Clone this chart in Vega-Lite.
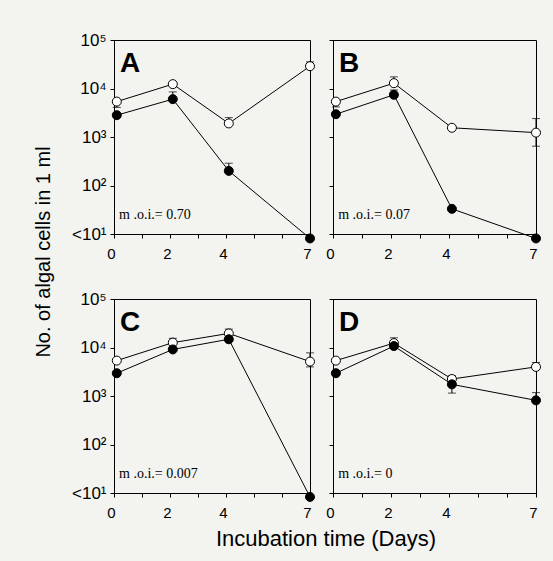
{
  "$schema": "https://vega.github.io/schema/vega-lite/v6.json",
  "background": "#f3f3f0",
  "padding": {"left": 34, "top": 30, "right": 14, "bottom": 14},
  "datasets": {
    "pts": [
      {"panel": "A", "series": "open", "day": 0.1, "count": 5370},
      {"panel": "A", "series": "open", "day": 2.1, "count": 12303},
      {"panel": "A", "series": "open", "day": 4.1, "count": 1905},
      {"panel": "A", "series": "open", "day": 7, "count": 28840},
      {"panel": "A", "series": "filled", "day": 0.1, "count": 2818},
      {"panel": "A", "series": "filled", "day": 2.1, "count": 6026},
      {"panel": "A", "series": "filled", "day": 4.1, "count": 200},
      {"panel": "A", "series": "filled", "day": 7, "count": 8.1},
      {"panel": "B", "series": "open", "day": 0.1, "count": 5370},
      {"panel": "B", "series": "open", "day": 2.1, "count": 12882},
      {"panel": "B", "series": "open", "day": 4.1, "count": 1549},
      {"panel": "B", "series": "open", "day": 7, "count": 1230},
      {"panel": "B", "series": "filled", "day": 0.1, "count": 2951},
      {"panel": "B", "series": "filled", "day": 2.1, "count": 7413},
      {"panel": "B", "series": "filled", "day": 4.1, "count": 33},
      {"panel": "B", "series": "filled", "day": 7, "count": 8.1},
      {"panel": "C", "series": "open", "day": 0.1, "count": 5370},
      {"panel": "C", "series": "open", "day": 2.1, "count": 12589},
      {"panel": "C", "series": "open", "day": 4.1, "count": 19498},
      {"panel": "C", "series": "open", "day": 7, "count": 5129},
      {"panel": "C", "series": "filled", "day": 0.1, "count": 2951},
      {"panel": "C", "series": "filled", "day": 2.1, "count": 9120},
      {"panel": "C", "series": "filled", "day": 4.1, "count": 14791},
      {"panel": "C", "series": "filled", "day": 7, "count": 8.3},
      {"panel": "D", "series": "open", "day": 0.1, "count": 5370},
      {"panel": "D", "series": "open", "day": 2.1, "count": 12303},
      {"panel": "D", "series": "open", "day": 4.1, "count": 2239},
      {"panel": "D", "series": "open", "day": 7, "count": 3981},
      {"panel": "D", "series": "filled", "day": 0.1, "count": 2951},
      {"panel": "D", "series": "filled", "day": 2.1, "count": 10715},
      {"panel": "D", "series": "filled", "day": 4.1, "count": 1738},
      {"panel": "D", "series": "filled", "day": 7, "count": 813}
    ],
    "err": [
      {"panel": "A", "day": 0.1, "lo": 4074, "hi": 5370},
      {"panel": "A", "day": 2.1, "lo": 6026, "hi": 8511},
      {"panel": "A", "day": 4.1, "lo": 1905, "hi": 2512},
      {"panel": "A", "day": 4.1, "lo": 200, "hi": 288},
      {"panel": "A", "day": 7, "lo": 28840, "hi": 35481},
      {"panel": "B", "day": 0.1, "lo": 4169, "hi": 5370},
      {"panel": "B", "day": 2.1, "lo": 12882, "hi": 17378},
      {"panel": "B", "day": 2.1, "lo": 7413, "hi": 9333},
      {"panel": "B", "day": 7, "lo": 646, "hi": 2399},
      {"panel": "C", "day": 2.1, "lo": 12589, "hi": 15488},
      {"panel": "C", "day": 4.1, "lo": 19498, "hi": 23988},
      {"panel": "C", "day": 7, "lo": 3981, "hi": 7762},
      {"panel": "D", "day": 2.1, "lo": 12303, "hi": 15849},
      {"panel": "D", "day": 4.1, "lo": 2239, "hi": 2630},
      {"panel": "D", "day": 4.1, "lo": 1148, "hi": 1738},
      {"panel": "D", "day": 7, "lo": 813, "hi": 1175},
      {"panel": "D", "day": 7, "lo": 3981, "hi": 4898}
    ],
    "lab": [
      {"panel": "A", "letter": "A", "moi": "m .o.i.= 0.70"},
      {"panel": "B", "letter": "B", "moi": "m .o.i.= 0.07"},
      {"panel": "C", "letter": "C", "moi": "m .o.i.= 0.007"},
      {"panel": "D", "letter": "D", "moi": "m .o.i.= 0"}
    ]
  },
  "title": {"text": "No. of algal cells in 1 ml", "orient": "left", "anchor": "middle", "fontSize": 20, "font": "Liberation Sans", "fontWeight": "normal", "color": "black", "offset": 17, "dx": 38},
  "vconcat": [
    {
      "title": {"text": "Incubation time (Days)", "orient": "bottom", "anchor": "middle", "fontSize": 22, "font": "Liberation Sans", "fontWeight": "normal", "color": "black", "offset": 8, "dx": 19},
      "spacing": 27,
      "vconcat": [
        {
          "spacing": 8,
          "hconcat": [
            {
              "width": 196, "height": 194,
              "layer": [
                {"data": {"name": "err"}, "transform": [{"filter": "datum.panel=='A'"}],
                 "mark": {"type": "errorbar", "color": "black", "ticks": {"size": 8}},
                 "encoding": {
                   "x": {"field": "day", "type": "quantitative", "scale": {"domain": [0, 7], "nice": false, "zero": false}, "axis": {"title": null, "values": [0, 1, 2, 3, 4, 5, 6, 7], "format": "d", "tickCount": 20, "labelOverlap": false, "labelExpr": "datum.value == 1 || datum.value == 3 || datum.value == 5 || datum.value == 6 ? '' : datum.label"}},
                   "y": {"field": "lo", "type": "quantitative", "scale": {"type": "log", "domain": [10, 100000], "nice": false}, "axis": {"title": null, "values": [10, 100, 1000, 10000, 100000], "tickCount": 10, "labelOverlap": false, "labelExpr": "datum.value == 10 ? '<10¹' : datum.value == 100 ? '10²' : datum.value == 1000 ? '10³' : datum.value == 10000 ? '10⁴' : '10⁵'"}},
                   "y2": {"field": "hi"}
                 }},
                {"data": {"name": "pts"}, "transform": [{"filter": "datum.panel=='A'"}],
                 "mark": {"type": "line", "color": "black", "strokeWidth": 1},
                 "encoding": {"x": {"field": "day", "type": "quantitative"}, "y": {"field": "count", "type": "quantitative"}, "detail": {"field": "series"}}},
                {"data": {"name": "pts"}, "transform": [{"filter": "datum.panel=='A'"}],
                 "mark": {"type": "point", "shape": "circle", "size": 81, "filled": true, "stroke": "black", "strokeWidth": 1, "opacity": 1},
                 "encoding": {"x": {"field": "day", "type": "quantitative"}, "y": {"field": "count", "type": "quantitative"}, "fill": {"field": "series", "type": "nominal", "scale": {"domain": ["open", "filled"], "range": ["white", "black"]}, "legend": null}}},
                {"data": {"name": "lab"}, "transform": [{"filter": "datum.panel=='A'"}],
                 "mark": {"type": "text", "font": "Liberation Sans", "fontWeight": "bold", "fontSize": 28, "align": "left", "baseline": "alphabetic", "color": "black"},
                 "encoding": {"x": {"datum": 0.21, "type": "quantitative"}, "y": {"datum": 21900, "type": "quantitative"}, "text": {"field": "letter"}}},
                {"data": {"name": "lab"}, "transform": [{"filter": "datum.panel=='A'"}],
                 "mark": {"type": "text", "font": "Liberation Serif", "fontSize": 14, "align": "left", "baseline": "alphabetic", "color": "black"},
                 "encoding": {"x": {"datum": 0.18, "type": "quantitative"}, "y": {"datum": 20.4, "type": "quantitative"}, "text": {"field": "moi"}}}
              ]
            },
            {
              "width": 203, "height": 194,
              "layer": [
                {"data": {"name": "err"}, "transform": [{"filter": "datum.panel=='B'"}],
                 "mark": {"type": "errorbar", "color": "black", "ticks": {"size": 8}},
                 "encoding": {
                   "x": {"field": "day", "type": "quantitative", "scale": {"domain": [0, 7], "nice": false, "zero": false}, "axis": {"title": null, "values": [0, 1, 2, 3, 4, 5, 6, 7], "format": "d", "tickCount": 20, "labelOverlap": false, "labelExpr": "datum.value == 1 || datum.value == 3 || datum.value == 5 || datum.value == 6 ? '' : datum.label"}},
                   "y": {"field": "lo", "type": "quantitative", "scale": {"type": "log", "domain": [10, 100000], "nice": false}, "axis": {"title": null, "values": [10, 100, 1000, 10000, 100000], "tickCount": 10, "labels": false}},
                   "y2": {"field": "hi"}
                 }},
                {"data": {"name": "pts"}, "transform": [{"filter": "datum.panel=='B'"}],
                 "mark": {"type": "line", "color": "black", "strokeWidth": 1},
                 "encoding": {"x": {"field": "day", "type": "quantitative"}, "y": {"field": "count", "type": "quantitative"}, "detail": {"field": "series"}}},
                {"data": {"name": "pts"}, "transform": [{"filter": "datum.panel=='B'"}],
                 "mark": {"type": "point", "shape": "circle", "size": 81, "filled": true, "stroke": "black", "strokeWidth": 1, "opacity": 1},
                 "encoding": {"x": {"field": "day", "type": "quantitative"}, "y": {"field": "count", "type": "quantitative"}, "fill": {"field": "series", "type": "nominal", "scale": {"domain": ["open", "filled"], "range": ["white", "black"]}, "legend": null}}},
                {"data": {"name": "lab"}, "transform": [{"filter": "datum.panel=='B'"}],
                 "mark": {"type": "text", "font": "Liberation Sans", "fontWeight": "bold", "fontSize": 28, "align": "left", "baseline": "alphabetic", "color": "black"},
                 "encoding": {"x": {"datum": 0.21, "type": "quantitative"}, "y": {"datum": 21900, "type": "quantitative"}, "text": {"field": "letter"}}},
                {"data": {"name": "lab"}, "transform": [{"filter": "datum.panel=='B'"}],
                 "mark": {"type": "text", "font": "Liberation Serif", "fontSize": 14, "align": "left", "baseline": "alphabetic", "color": "black"},
                 "encoding": {"x": {"datum": 0.18, "type": "quantitative"}, "y": {"datum": 20.4, "type": "quantitative"}, "text": {"field": "moi"}}}
              ]
            }
          ]
        },
        {
          "spacing": 8,
          "hconcat": [
            {
              "width": 196, "height": 194,
              "layer": [
                {"data": {"name": "err"}, "transform": [{"filter": "datum.panel=='C'"}],
                 "mark": {"type": "errorbar", "color": "black", "ticks": {"size": 8}},
                 "encoding": {
                   "x": {"field": "day", "type": "quantitative", "scale": {"domain": [0, 7], "nice": false, "zero": false}, "axis": {"title": null, "values": [0, 1, 2, 3, 4, 5, 6, 7], "format": "d", "tickCount": 20, "labelOverlap": false, "labelExpr": "datum.value == 1 || datum.value == 3 || datum.value == 5 || datum.value == 6 ? '' : datum.label"}},
                   "y": {"field": "lo", "type": "quantitative", "scale": {"type": "log", "domain": [10, 100000], "nice": false}, "axis": {"title": null, "values": [10, 100, 1000, 10000, 100000], "tickCount": 10, "labelOverlap": false, "labelExpr": "datum.value == 10 ? '<10¹' : datum.value == 100 ? '10²' : datum.value == 1000 ? '10³' : datum.value == 10000 ? '10⁴' : '10⁵'"}},
                   "y2": {"field": "hi"}
                 }},
                {"data": {"name": "pts"}, "transform": [{"filter": "datum.panel=='C'"}],
                 "mark": {"type": "line", "color": "black", "strokeWidth": 1},
                 "encoding": {"x": {"field": "day", "type": "quantitative"}, "y": {"field": "count", "type": "quantitative"}, "detail": {"field": "series"}}},
                {"data": {"name": "pts"}, "transform": [{"filter": "datum.panel=='C'"}],
                 "mark": {"type": "point", "shape": "circle", "size": 81, "filled": true, "stroke": "black", "strokeWidth": 1, "opacity": 1},
                 "encoding": {"x": {"field": "day", "type": "quantitative"}, "y": {"field": "count", "type": "quantitative"}, "fill": {"field": "series", "type": "nominal", "scale": {"domain": ["open", "filled"], "range": ["white", "black"]}, "legend": null}}},
                {"data": {"name": "lab"}, "transform": [{"filter": "datum.panel=='C'"}],
                 "mark": {"type": "text", "font": "Liberation Sans", "fontWeight": "bold", "fontSize": 28, "align": "left", "baseline": "alphabetic", "color": "black"},
                 "encoding": {"x": {"datum": 0.21, "type": "quantitative"}, "y": {"datum": 21900, "type": "quantitative"}, "text": {"field": "letter"}}},
                {"data": {"name": "lab"}, "transform": [{"filter": "datum.panel=='C'"}],
                 "mark": {"type": "text", "font": "Liberation Serif", "fontSize": 14, "align": "left", "baseline": "alphabetic", "color": "black"},
                 "encoding": {"x": {"datum": 0.18, "type": "quantitative"}, "y": {"datum": 20.4, "type": "quantitative"}, "text": {"field": "moi"}}}
              ]
            },
            {
              "width": 203, "height": 194,
              "layer": [
                {"data": {"name": "err"}, "transform": [{"filter": "datum.panel=='D'"}],
                 "mark": {"type": "errorbar", "color": "black", "ticks": {"size": 8}},
                 "encoding": {
                   "x": {"field": "day", "type": "quantitative", "scale": {"domain": [0, 7], "nice": false, "zero": false}, "axis": {"title": null, "values": [0, 1, 2, 3, 4, 5, 6, 7], "format": "d", "tickCount": 20, "labelOverlap": false, "labelExpr": "datum.value == 1 || datum.value == 3 || datum.value == 5 || datum.value == 6 ? '' : datum.label"}},
                   "y": {"field": "lo", "type": "quantitative", "scale": {"type": "log", "domain": [10, 100000], "nice": false}, "axis": {"title": null, "values": [10, 100, 1000, 10000, 100000], "tickCount": 10, "labels": false}},
                   "y2": {"field": "hi"}
                 }},
                {"data": {"name": "pts"}, "transform": [{"filter": "datum.panel=='D'"}],
                 "mark": {"type": "line", "color": "black", "strokeWidth": 1},
                 "encoding": {"x": {"field": "day", "type": "quantitative"}, "y": {"field": "count", "type": "quantitative"}, "detail": {"field": "series"}}},
                {"data": {"name": "pts"}, "transform": [{"filter": "datum.panel=='D'"}],
                 "mark": {"type": "point", "shape": "circle", "size": 81, "filled": true, "stroke": "black", "strokeWidth": 1, "opacity": 1},
                 "encoding": {"x": {"field": "day", "type": "quantitative"}, "y": {"field": "count", "type": "quantitative"}, "fill": {"field": "series", "type": "nominal", "scale": {"domain": ["open", "filled"], "range": ["white", "black"]}, "legend": null}}},
                {"data": {"name": "lab"}, "transform": [{"filter": "datum.panel=='D'"}],
                 "mark": {"type": "text", "font": "Liberation Sans", "fontWeight": "bold", "fontSize": 28, "align": "left", "baseline": "alphabetic", "color": "black"},
                 "encoding": {"x": {"datum": 0.21, "type": "quantitative"}, "y": {"datum": 21900, "type": "quantitative"}, "text": {"field": "letter"}}},
                {"data": {"name": "lab"}, "transform": [{"filter": "datum.panel=='D'"}],
                 "mark": {"type": "text", "font": "Liberation Serif", "fontSize": 14, "align": "left", "baseline": "alphabetic", "color": "black"},
                 "encoding": {"x": {"datum": 0.18, "type": "quantitative"}, "y": {"datum": 20.4, "type": "quantitative"}, "text": {"field": "moi"}}}
              ]
            }
          ]
        }
      ]
    }
  ],
  "config": {
    "view": {"stroke": "black", "strokeWidth": 1, "fill": null},
    "axis": {
      "grid": false,
      "domainColor": "black",
      "tickColor": "black",
      "tickSize": 4,
      "labelColor": "black",
      "labelFont": "Liberation Sans",
      "labelFontSize": 15,
      "labelPadding": 3,
      "labelOverlap": false,
      "labelFlush": false,
      "labelBound": false
    },
    "axisX": {"labelPadding": 8, "labelFontSize": 15, "labelOffset": -3},
    "axisY": {"labelFontSize": 17, "labelPadding": 4}
  }
}
